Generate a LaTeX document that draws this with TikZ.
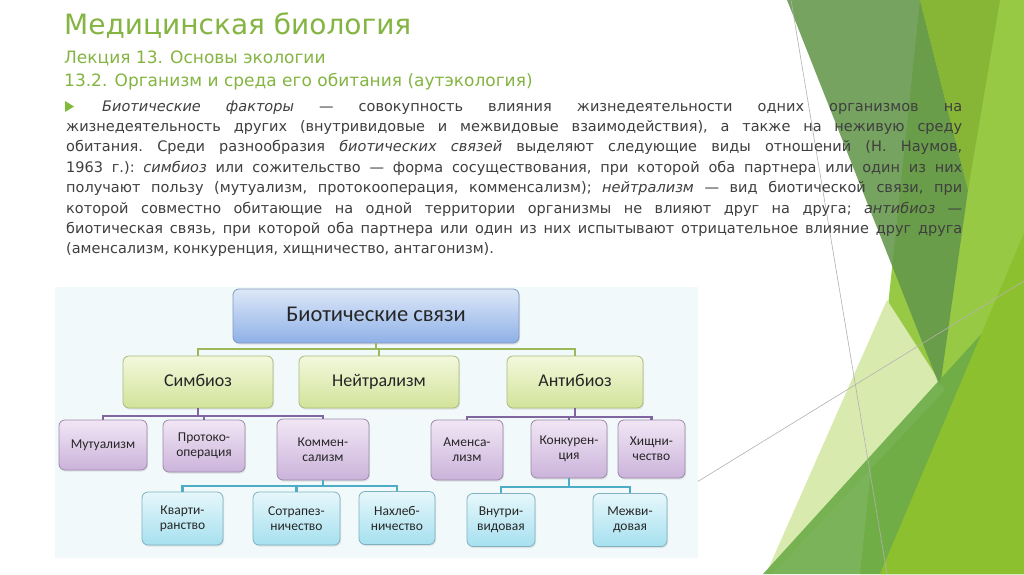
\documentclass[tikz,border=0pt]{standalone}
\usepackage{fontspec}
\setmainfont{DejaVu Sans}
\newfontfamily\dgmfont{Carlito}
\usetikzlibrary{shadows}

\definecolor{titlegreen}{HTML}{84B441}
\definecolor{bodygray}{HTML}{3F3F3F}
\definecolor{lightgr}{HTML}{98C944}
\definecolor{olivegr}{HTML}{87B535}
\definecolor{darkgr}{HTML}{64974A}
\definecolor{palegr}{HTML}{D9EAAF}
\definecolor{midgr}{HTML}{6CAB48}
\definecolor{brightgr}{HTML}{8DC02F}
\definecolor{bulletgr}{HTML}{7FBA3A}
\definecolor{dgmback}{HTML}{F2F9FB}
\definecolor{linegreen}{HTML}{9BB95A}
\definecolor{linepurple}{HTML}{8066A0}
\definecolor{lineteal}{HTML}{4DADC6}

\tikzset{
  box/.style={rounded corners=6pt, inner sep=1pt, align=center, text=black!85,
    line width=0.8pt, drop shadow={opacity=0.18, shadow xshift=1pt, shadow yshift=-1.5pt}},
  rootbox/.style={box, top color={rgb,255:red,221;green,232;blue,248}, bottom color={rgb,255:red,142;green,176;blue,231},
    draw={rgb,255:red,131;green,151;blue,192}, text height=15pt, text depth=4pt,
    font=\dgmfont\fontsize{22.5}{26}\selectfont},
  twobox/.style={box, top color={rgb,255:red,243;green,248;blue,220}, bottom color={rgb,255:red,210;green,227;blue,154},
    draw={rgb,255:red,169;green,187;blue,123}, minimum height=52pt, text height=12pt, text depth=3.5pt,
    font=\dgmfont\fontsize{18}{21}\selectfont},
  threebox/.style={box, top color={rgb,255:red,241;green,230;blue,245}, bottom color={rgb,255:red,203;green,179;blue,218},
    draw={rgb,255:red,155;green,137;blue,168}, font=\dgmfont\fontsize{13.5}{15}\selectfont},
  fourbox/.style={box, top color={rgb,255:red,230;green,247;blue,251}, bottom color={rgb,255:red,166;green,224;blue,239},
    draw={rgb,255:red,126;green,176;blue,192}, minimum height=53pt, font=\dgmfont\fontsize{13.5}{15}\selectfont},
  bus/.style={line width=2.4pt},
  deco/.style={gray!60, line width=0.6pt}
}

\begin{document}
\begin{tikzpicture}[x=1pt,y=-1pt]
\useasboundingbox (0,0) rectangle (1024,574);
\fill[white] (0,0) rectangle (1024,574);

\fill[lightgr] (920,0) -- (1024,0) -- (1024,574) -- (860,574) -- cycle;
\fill[palegr] (887,300) -- (945,390) -- (772,574) -- (766,574) -- cycle;
\fill[darkgr, opacity=.88] (787,0) -- (920,0) -- (968,190) -- (940,387) -- cycle;
\fill[olivegr] (920,0) -- (1000,0) -- (968,190) -- cycle;
\fill[midgr, opacity=.9] (763,574) -- (985,330) -- (1024,300) -- (1024,574) -- cycle;
\fill[brightgr] (1024,233) -- (1024,574) -- (880,574) -- cycle;
\draw[deco] (791,0) -- (887,574);
\draw[deco] (697,482) -- (1024,281);

\node[anchor=base west, inner sep=0pt, text=titlegreen, font=\fontsize{28}{32}\selectfont] (title) at (64,34) {Медицинская биология};
\node[anchor=base west, inner sep=0pt, text=titlegreen, font=\fontsize{17}{20}\selectfont] (lect) at (64,63) {Лекция 13. Основы экологии};
\node[anchor=base west, inner sep=0pt, text=titlegreen, font=\fontsize{17}{20}\selectfont] (sect) at (64,86) {13.2. Организм и среда его обитания (аутэкология)};

\fill[bulletgr] (65,101) -- (74,106.5) -- (65,112) -- cycle;
\node[anchor=base west, inner sep=0pt, text=bodygray] (txt) at (66,111) {\parbox[t]{896pt}{\fontsize{14.5}{20.4}\selectfont
  \frenchspacing\hyphenpenalty=10000\tolerance=10000\hspace*{36pt}\textit{Биотические факторы} — совокупность влияния жизнедеятельности одних организмов на\linebreak
  жизнедеятельность других (внутривидовые и межвидовые взаимодействия), а также на неживую среду\linebreak
  обитания. Среди разнообразия \textit{биотических связей} выделяют следующие виды отношений (Н. Наумов,\linebreak
  1963 г.): \textit{симбиоз} или сожительство — форма сосуществования, при которой оба партнера или один из них\linebreak
  получают пользу (мутуализм, протокооперация, комменсализм); \textit{нейтрализм} — вид биотической связи, при\linebreak
  которой совместно обитающие на одной территории организмы не влияют друг на друга; \textit{антибиоз} —\linebreak
  биотическая связь, при которой оба партнера или один из них испытывают отрицательное влияние друг друга\linebreak
  (аменсализм, конкуренция, хищничество, антагонизм).}};

\fill[dgmback] (55,287) rectangle (698,558);

\coordinate (b1) at (376,349);
\coordinate (b2) at (198,416);
\coordinate (b3) at (575,417);
\coordinate (b4) at (323,486);
\coordinate (b5) at (569,487);

\node[rootbox, minimum width=286pt, minimum height=54pt] (B) at (376,316) {Биотические связи};

\node[twobox, minimum width=150pt] (S) at (198,382) {Симбиоз};
\node[twobox, minimum width=160pt] (N) at (379,382) {Нейтрализм};
\node[twobox, minimum width=136pt] (A) at (575,382) {Антибиоз};

\node[threebox, minimum width=88pt, minimum height=50pt] (Mu) at (103,445) {Мутуализм};
\node[threebox, minimum width=82pt, minimum height=52pt] (Pr) at (204,446) {Протоко-\\операция};
\node[threebox, minimum width=92pt, minimum height=61pt] (Ko) at (323,449.5) {Коммен-\\сализм};
\node[threebox, minimum width=72pt, minimum height=60pt] (Am) at (467,450) {Аменса-\\лизм};
\node[threebox, minimum width=76pt, minimum height=58pt] (Kn) at (569,449) {Конкурен-\\ция};
\node[threebox, minimum width=67pt, minimum height=58pt] (Hi) at (651.5,449) {Хищни-\\чество};

\node[fourbox, minimum width=81pt] (Kv) at (182.5,518.5) {Кварти-\\ранство};
\node[fourbox, minimum width=87pt] (So) at (296.5,518.5) {Сотрапез-\\ничество};
\node[fourbox, minimum width=76pt] (Na) at (397,518) {Нахлеб-\\ничество};
\node[fourbox, minimum width=68pt] (Vn) at (501,520) {Внутри-\\видовая};
\node[fourbox, minimum width=74pt] (Me) at (630,520) {Межви-\\довая};

\draw[bus, linegreen] (B.south) -- (b1) -| (S.north);
\draw[bus, linegreen] (b1) -| (N.north);
\draw[bus, linegreen] (b1) -| (A.north);

\draw[bus, linepurple] (S.south) -- (b2) -| (Mu.north);
\draw[bus, linepurple] (b2) -| (Pr.north);
\draw[bus, linepurple] (b2) -| (Ko.north);
\draw[bus, linepurple] (A.south) -- (b3) -| (Am.north);
\draw[bus, linepurple] (b3) -| (Kn.north);
\draw[bus, linepurple] (b3) -| (Hi.north);

\draw[bus, lineteal] (Ko.south) -- (b4) -| (Kv.north);
\draw[bus, lineteal] (b4) -| (So.north);
\draw[bus, lineteal] (b4) -| (Na.north);
\draw[bus, lineteal] (Kn.south) -- (b5) -| (Vn.north);
\draw[bus, lineteal] (b5) -| (Me.north);

\end{tikzpicture}
\end{document}
